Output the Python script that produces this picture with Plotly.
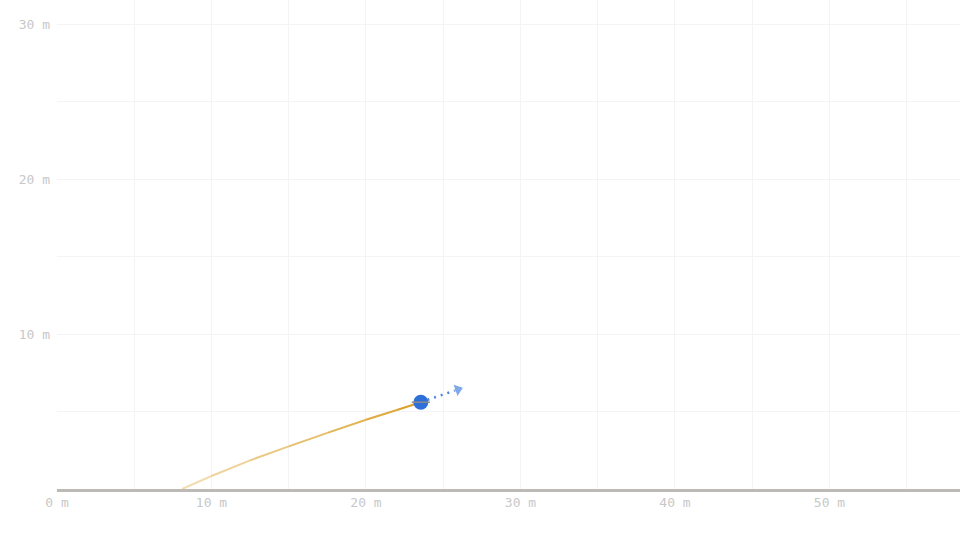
import plotly.graph_objects as go

# Trail of the projectile (metres)
trail_x = [8.1, 10.0, 12.5, 15.0, 17.5, 20.0, 22.0, 23.55]
trail_y = [0.0, 0.84, 1.85, 2.75, 3.62, 4.47, 5.10, 5.60]
# Current ball position
ball_x = [23.55]
ball_y = [5.60]
# Velocity arrow tip
vel_x = [25.95]
vel_y = [6.42]

x_range = [0, 58.45]
y_range = [0, 31.55]
x_ticks = [0, 10, 20, 30, 40, 50]
y_ticks = [0, 10, 20, 30]

fig = go.Figure()

# fading trail
n = len(trail_x) - 1
for i in range(n):
    op = 0.25 + 0.75 * (i + 1) / n
    fig.add_trace(go.Scatter(
        x=trail_x[i:i + 2], y=trail_y[i:i + 2], mode="lines",
        line=dict(color="#dba22a", width=2), opacity=op,
        hoverinfo="skip", showlegend=False))

# velocity vector (dotted) with head
fig.add_trace(go.Scatter(
    x=[ball_x[0], vel_x[0]], y=[ball_y[0], vel_y[0]], mode="lines",
    line=dict(color="#4a86e0", width=2.5, dash="2px,5px"),
    hoverinfo="skip", showlegend=False))
fig.add_trace(go.Scatter(
    x=[ball_x[0], vel_x[0]], y=[ball_y[0], vel_y[0]], mode="markers",
    marker=dict(symbol="triangle-up", size=[0, 12], color="#4a86e0",
                angleref="previous"),
    hoverinfo="skip", showlegend=False))

# ball
fig.add_trace(go.Scatter(
    x=ball_x, y=ball_y, mode="markers",
    marker=dict(size=15, color="#2e6fd8", line=dict(width=0)),
    hoverinfo="skip", showlegend=False))
fig.add_trace(go.Scatter(
    x=ball_x, y=ball_y, mode="markers",
    marker=dict(symbol="line-ew", size=13, line=dict(color="#8c8c8c", width=1.5)),
    hoverinfo="skip", showlegend=False))

font_mono = dict(family="DejaVu Sans Mono", size=13, color="#c8c8c8")

fig.update_layout(
    width=960, height=540,
    margin=dict(l=57, r=0, t=0, b=51),
    paper_bgcolor="white", plot_bgcolor="white",
    showlegend=False,
)
fig.update_xaxes(
    range=x_range, tickvals=x_ticks, ticktext=[f"{v} m" for v in x_ticks],
    tickfont=font_mono, showgrid=True, gridcolor="#f4f4f4", gridwidth=1,
    minor=dict(dtick=5, showgrid=True, gridcolor="#f4f4f4"),
    zeroline=False, showline=True, linecolor="#bdbab6", linewidth=2.5,
    ticks="", ticklabelstandoff=0, fixedrange=True,
)
fig.update_yaxes(
    range=y_range, tickvals=y_ticks, ticktext=["" if v == 0 else f"{v} m" for v in y_ticks],
    tickfont=font_mono, showgrid=True, gridcolor="#f4f4f4", gridwidth=1,
    minor=dict(dtick=5, showgrid=True, gridcolor="#f4f4f4"),
    zeroline=False, showline=False, ticks="", ticklabelstandoff=6,
    fixedrange=True,
)

fig.write_html("out.html", config={"displayModeBar": False},
               post_script="document.body.style.margin='0';")
